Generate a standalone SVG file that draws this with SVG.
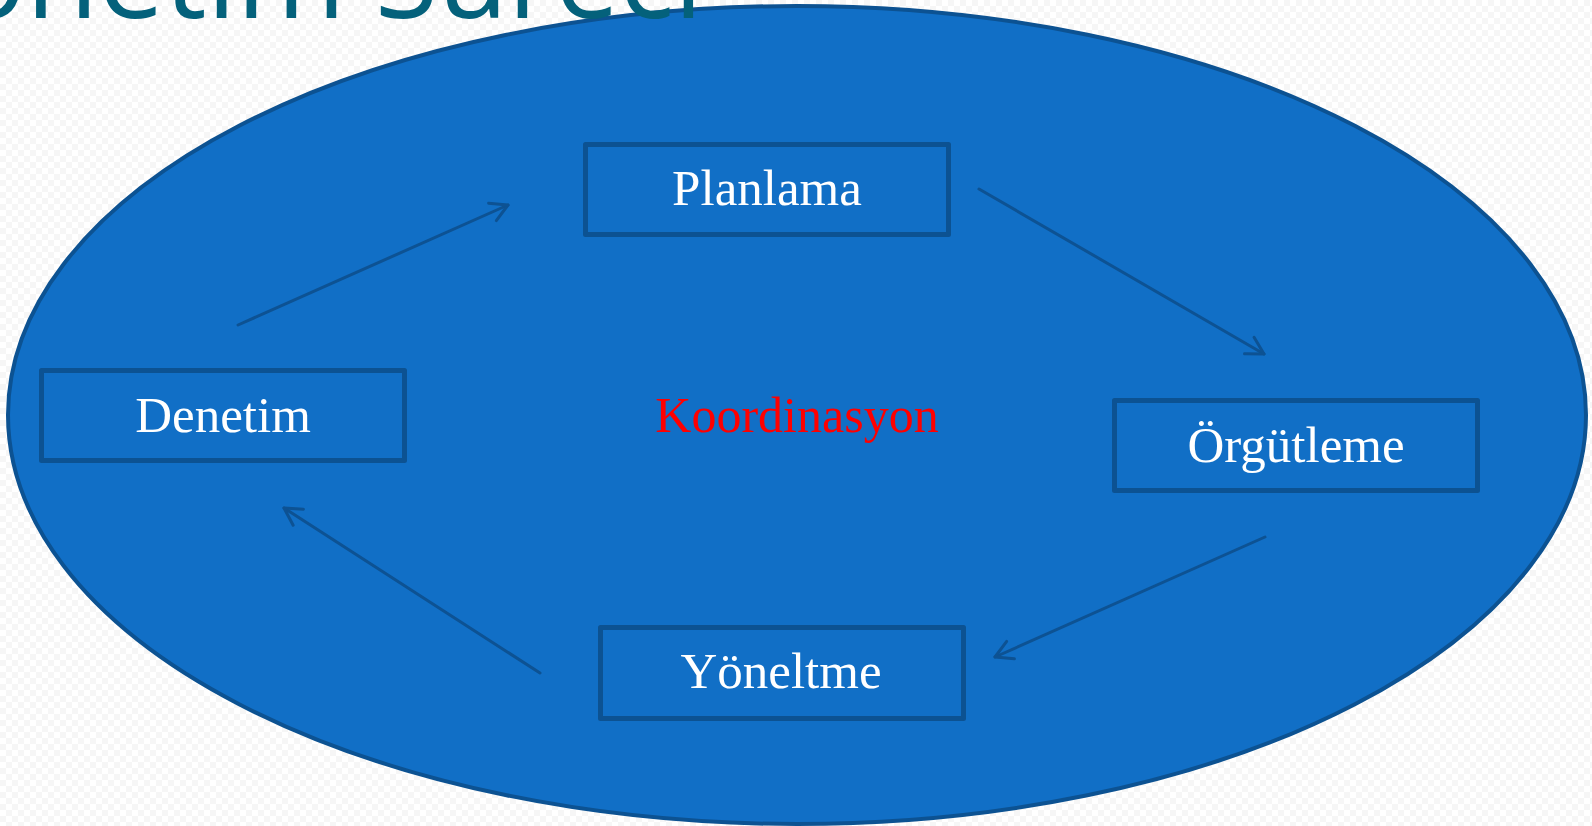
<svg xmlns="http://www.w3.org/2000/svg" width="1592" height="826" viewBox="0 0 1592 826">
  <defs>
    <!-- faint checkered slide background -->
    <pattern id="bgcheck" width="12" height="12" patternUnits="userSpaceOnUse">
      <rect width="12" height="12" fill="#ffffff"/>
      <rect width="6" height="6" fill="#f6f6f6"/>
      <rect x="6" y="6" width="6" height="6" fill="#f6f6f6"/>
    </pattern>
    <marker id="open-arrow" markerUnits="userSpaceOnUse" markerWidth="24" markerHeight="24" viewBox="-20 -12 24 24" refX="0" refY="0" orient="auto">
      <path d="M-17,-9.5 L0,0 L-17,9.5" fill="none" stroke="#0d5293" stroke-width="3" stroke-linecap="round" stroke-linejoin="round"/>
    </marker>
  </defs>
  <style>
    .title { font-family: "Open Sans", "Liberation Sans", sans-serif; font-size: 118px; fill: #04617b; }
    .box rect { fill: #116fc6; stroke: #0c5292; stroke-width: 5; stroke-linejoin: round; }
    .box text { font-family: "Liberation Serif", "DejaVu Serif", serif; font-size: 51px; fill: #ffffff; text-anchor: middle; }
    .center-label { font-family: "Liberation Serif", "DejaVu Serif", serif; font-size: 50px; fill: #ff0000; text-anchor: middle; }
    .connector { fill: none; stroke: #0d5293; stroke-width: 3; stroke-linecap: round; marker-end: url(#open-arrow); }
  </style>

  <rect width="1592" height="826" fill="url(#bgcheck)"/>

  <!-- cycle background -->
  <ellipse id="cycle" cx="797" cy="415" rx="789" ry="409" fill="#116fc6" stroke="#0c5292" stroke-width="4"/>

  <!-- slide title, partly above the top edge, drawn over the ellipse rim -->
  <text class="title" y="18"><tspan x="-111">Yönetim</tspan><tspan x="375" textLength="328" lengthAdjust="spacingAndGlyphs">Süreci</tspan></text>

  <text id="koordinasyon" class="center-label" x="797" y="432">Koordinasyon</text>

  <g id="planlama" class="box">
    <rect x="585.5" y="144.5" width="363" height="90"/>
    <text x="767" y="205">Planlama</text>
  </g>
  <g id="orgutleme" class="box">
    <rect x="1114.5" y="400.5" width="363" height="90"/>
    <text x="1296" y="462">Örgütleme</text>
  </g>
  <g id="yoneltme" class="box">
    <rect x="600.5" y="627.5" width="363" height="91"/>
    <text x="781" y="688">Yöneltme</text>
  </g>
  <g id="denetim" class="box">
    <rect x="41.5" y="370.5" width="363" height="90"/>
    <text x="223" y="432">Denetim</text>
  </g>

  <g id="connectors">
    <line class="connector" x1="238" y1="325" x2="508" y2="205"/>
    <line class="connector" x1="979" y1="189" x2="1264" y2="354"/>
    <line class="connector" x1="1265" y1="537" x2="995" y2="657"/>
    <line class="connector" x1="540" y1="673" x2="284" y2="508"/>
  </g>
</svg>
